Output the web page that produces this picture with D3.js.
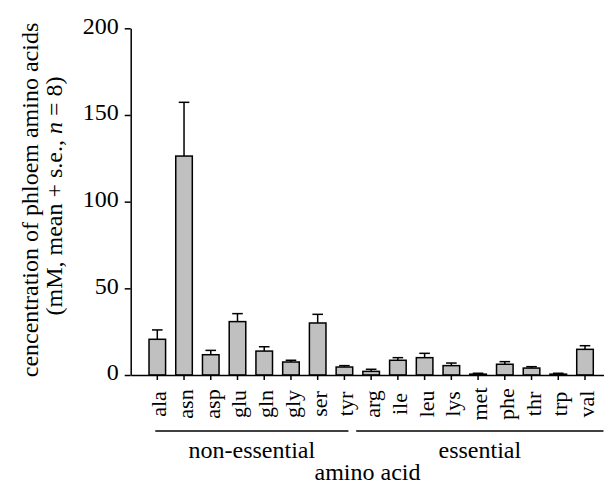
<!DOCTYPE html>
<html>
<head>
<meta charset="UTF-8">
<style>
  body { margin: 0; background: #fff; }
  svg { font-family: "Liberation Serif", "Times New Roman", serif; }
  .axis path, .axis line { stroke: #000; stroke-width: 1.5; }
</style>
</head>
<body>
<svg id="chart" width="604" height="484"></svg>
<script src="https://cdn.jsdelivr.net/npm/d3@7"></script>
<script>
  // amino acids and phloem concentrations (mM), mean and mean + s.e.
  let acids = ["ala","asn","asp","glu","gln","gly","ser","tyr","arg","ile","leu","lys","met","phe","thr","trp","val"];
  let means = [20.6, 126.3, 11.7, 30.8, 13.8, 7.5, 30, 4.6, 2.1, 8.5, 10, 5.4, 0.5, 6.2, 4, 0.5, 14.8];
  let upper = [26, 157.3, 14.2, 35.4, 16.3, 8.5, 35, 5.4, 3.3, 10, 12.5, 6.9, 1, 7.7, 4.8, 1, 16.9];
  let groups = [
    {name: "non-essential", first: "ala", last: "tyr"},
    {name: "essential", first: "arg", last: "val"}
  ];
  let yTicks = [0, 50, 100, 150, 200];

  let svg = d3.select("#chart");
  let plotLeft = 130.7, plotBottom = 375, plotTop = 28.3;

  let x = d3.scaleBand()
    .domain(acids)
    .range([plotLeft, 611.6])
    .paddingInner(0.38)
    .paddingOuter(0.685);

  let y = d3.scaleLinear()
    .domain([0, 200])
    .range([plotBottom, plotTop]);

  // y axis
  let yAxis = svg.append("g")
    .attr("class", "axis")
    .attr("transform", "translate(" + plotLeft + ",0)")
    .call(d3.axisLeft(y).tickValues(yTicks).tickSize(6).tickSizeOuter(0).tickPadding(6));
  yAxis.selectAll("text")
    .attr("font-size", 24)
    .attr("font-family", "Liberation Serif")
    .attr("fill", "#000")
    .attr("dy", "0.2em");

  // bars
  svg.selectAll(".bar")
    .data(acids)
    .enter().append("rect")
    .attr("class", "bar")
    .attr("x", d => x(d))
    .attr("width", x.bandwidth())
    .attr("y", (d, i) => y(means[i]))
    .attr("height", (d, i) => y(0) - y(means[i]))
    .attr("fill", "#c0c0c0")
    .attr("stroke", "#000")
    .attr("stroke-width", 1.5);

  // error bars
  let cap = 5.3;
  let err = svg.selectAll(".err")
    .data(acids)
    .enter().append("g")
    .attr("class", "err")
    .attr("stroke", "#000")
    .attr("stroke-width", 1.5);
  err.append("line")
    .attr("x1", d => x(d) + x.bandwidth() / 2)
    .attr("x2", d => x(d) + x.bandwidth() / 2)
    .attr("y1", (d, i) => y(means[i]))
    .attr("y2", (d, i) => y(upper[i]));
  err.append("line")
    .attr("x1", d => x(d) + x.bandwidth() / 2 - cap)
    .attr("x2", d => x(d) + x.bandwidth() / 2 + cap)
    .attr("y1", (d, i) => y(upper[i]))
    .attr("y2", (d, i) => y(upper[i]));

  // x axis, labels rotated and centred under the ticks
  let xAxis = svg.append("g")
    .attr("class", "axis")
    .attr("transform", "translate(0," + plotBottom + ")")
    .call(d3.axisBottom(x).tickSize(5).tickSizeOuter(0));
  xAxis.selectAll("text")
    .attr("font-size", 22)
    .attr("font-family", "Liberation Serif")
    .attr("fill", "#000")
    .attr("text-anchor", "middle")
    .attr("transform", "rotate(-90)")
    .attr("x", -29)
    .attr("y", 9)
    .attr("dy", 0);

  // group brackets
  let step = x.step();
  groups.forEach((g, i) => {
    let x1 = i == 0 ? x(g.first) + x.bandwidth() / 2 - 2 : x(g.first) - step * 0.25;
    let x2 = i == 0 ? x(g.last) + x.bandwidth() / 2 + 4 : x(g.last) + step;
    svg.append("line")
      .attr("x1", x1).attr("x2", x2)
      .attr("y1", 431).attr("y2", 431)
      .attr("stroke", "#000")
      .attr("stroke-width", 1.5);
    svg.append("text")
      .attr("x", (x1 + x2) / 2)
      .attr("y", 458)
      .attr("text-anchor", "middle")
      .attr("font-size", 24)
      .text(g.name);
  });

  svg.append("text")
    .attr("x", 367.5)
    .attr("y", 480)
    .attr("text-anchor", "middle")
    .attr("font-size", 24)
    .text("amino acid");

  // y title
  svg.append("text")
    .attr("transform", "translate(38,200) rotate(-90)")
    .attr("text-anchor", "middle")
    .attr("font-size", 24)
    .text("cencentration of phloem amino acids");
  let t2 = svg.append("text")
    .attr("transform", "translate(62,196) rotate(-90)")
    .attr("text-anchor", "middle")
    .attr("font-size", 24);
  t2.append("tspan").text("(mM, mean + s.e., ");
  t2.append("tspan").attr("font-style", "italic").text("n");
  t2.append("tspan").text(" = 8)");
</script>
</body>
</html>
